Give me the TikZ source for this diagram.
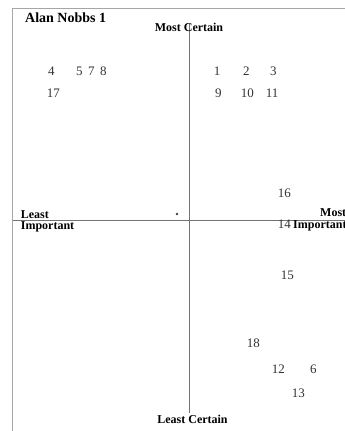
\documentclass[tikz,border=0pt]{standalone}
\usepackage{fontspec}
\setmainfont{Liberation Serif}
\begin{document}
\begin{tikzpicture}[x=1pt,y=-1pt,
  num/.style={inner sep=0pt,anchor=base west,font=\fontsize{13}{13}\selectfont,text=black!80},
  lab/.style={inner sep=0pt,font=\fontsize{12}{12}\selectfont\bfseries},
  frame/.style={draw=black!35,line width=0.8pt},
  axis/.style={draw=black!55,line width=0.6pt}]
\useasboundingbox (0,0) rectangle (345,431);
% frame
\coordinate (ftr) at (345,8.3);
\coordinate (ftl) at (12.7,8.3);
\coordinate (fbl) at (12.7,431);
\draw[frame] (ftr) -- (ftl) -- (fbl);
% axes
\coordinate (vt) at (189,24);
\coordinate (vb) at (189,413);
\coordinate (hl) at (13,220);
\coordinate (hr) at (345,220);
\draw[axis] (vt) -- (vb);
\draw[axis] (hl) -- (hr);
% labels
\node[lab,anchor=base west,font=\fontsize{14}{14}\selectfont\bfseries] (title) at (25,22) {Alan Nobbs 1};
\node[lab,anchor=base] (mostc) at (189,31) {Most Certain};
\node[lab,anchor=base] (leastc) at (192.5,423) {Least Certain};
\node[lab,anchor=base west] (least) at (20.7,218.5) {Least};
\node[lab,anchor=base west] (impl) at (20.7,229.5) {Important};
\node[lab,anchor=base west] (most) at (320,216.5) {Most};
\node[lab,anchor=base west] (impr) at (293,228) {Important};
% dot
\fill[black!75] (177,214) circle (1.4) coordinate (dot);
% numbers
\node[num] (n4) at (48,75) {4};
\node[num] (n5) at (76,75) {5};
\node[num] (n7) at (88,75) {7};
\node[num] (n8) at (100,75) {8};
\node[num] (n17) at (46.6,97) {17};
\node[num] (n1) at (213.6,75) {1};
\node[num] (n2) at (243,75) {2};
\node[num] (n3) at (270,75) {3};
\node[num] (n9) at (215,97) {9};
\node[num] (n10) at (240.6,97) {10};
\node[num] (n11) at (265.6,97) {11};
\node[num] (n16) at (277.6,197) {16};
\node[num] (n14) at (277.6,228) {14};
\node[num] (n15) at (280.6,279) {15};
\node[num] (n18) at (246.6,347) {18};
\node[num] (n12) at (271.6,373) {12};
\node[num] (n6) at (310,373) {6};
\node[num] (n13) at (291.6,397) {13};
\end{tikzpicture}
\end{document}
